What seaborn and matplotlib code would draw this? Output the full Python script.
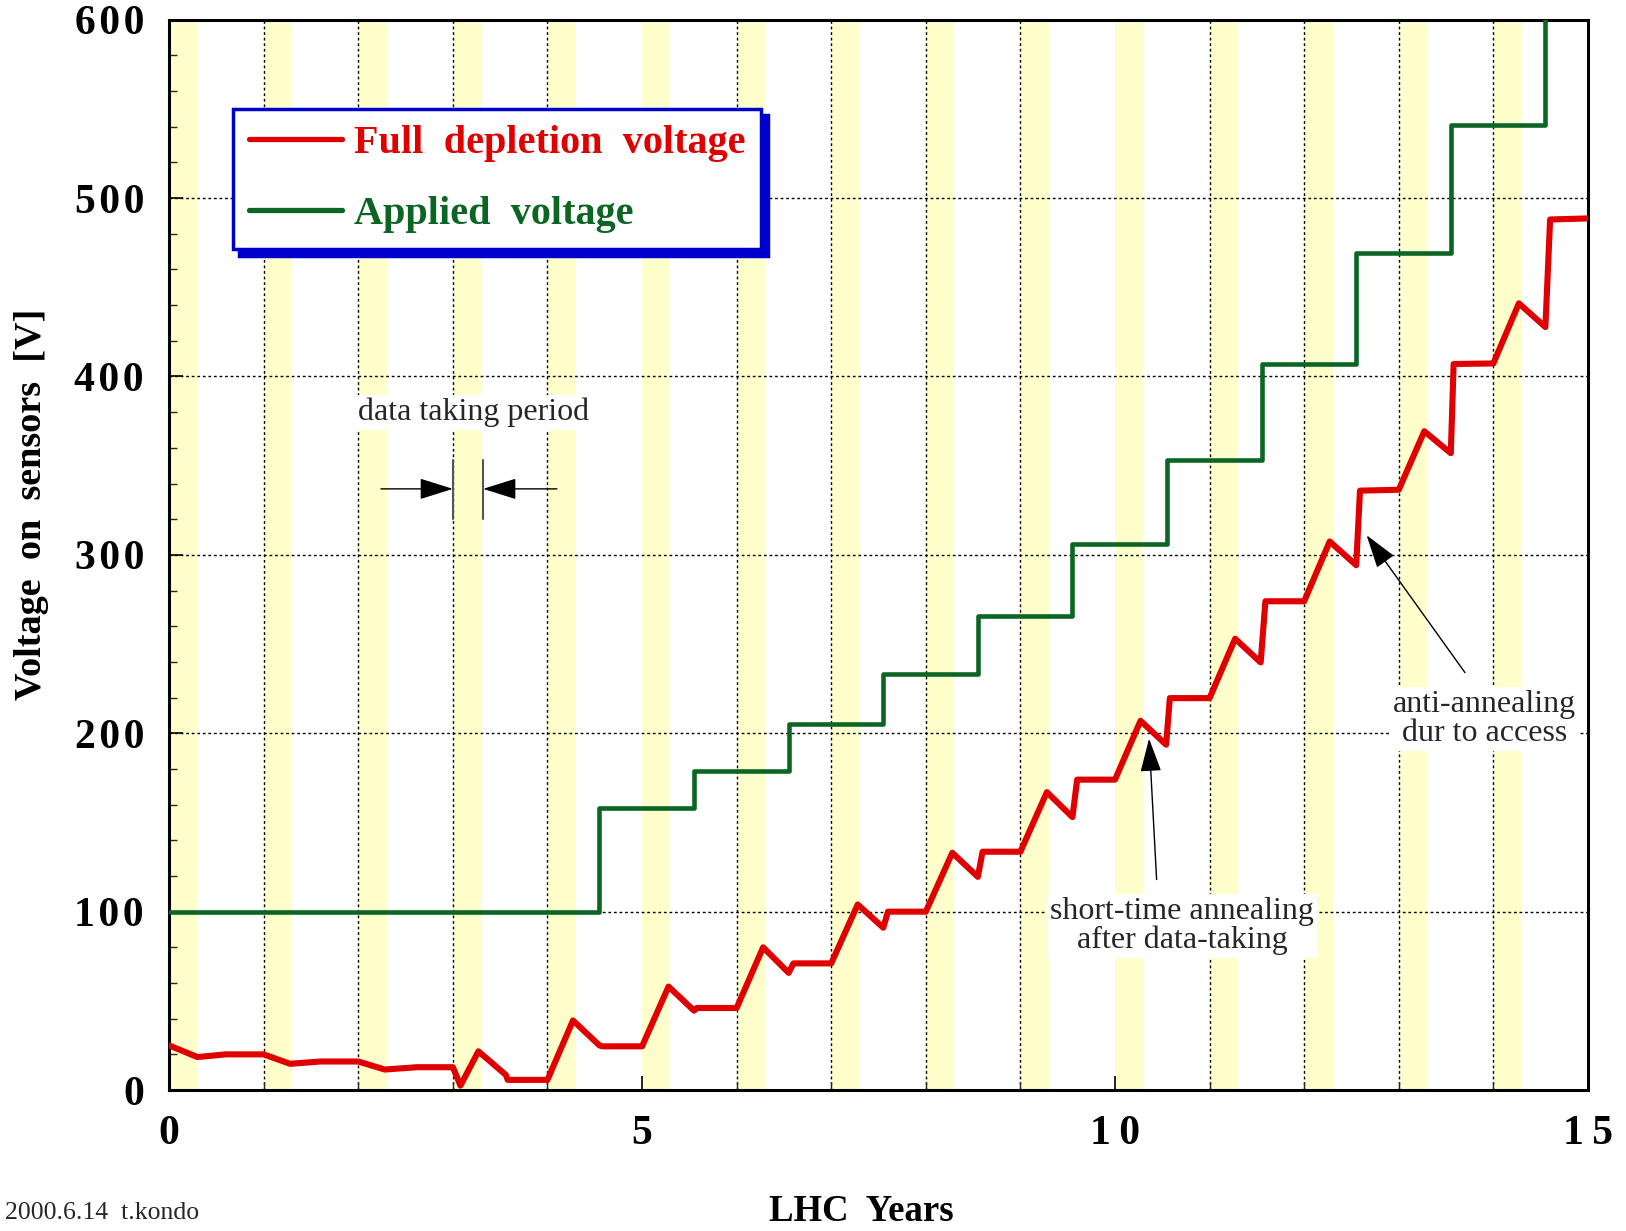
import numpy as np
import pandas as pd
import matplotlib
matplotlib.use("Agg")
import matplotlib.pyplot as plt
import seaborn as sns

# ---------------- data ----------------
band_starts = list(range(0, 15))          # start of each yearly data-taking period
band_width = 0.3                           # length of data-taking period [years]

red_x = [0.0, 0.3, 0.6, 1.0, 1.28, 1.6, 2.0, 2.28, 2.62, 3.0, 3.08, 3.27, 3.56, 3.58, 4.0,
         4.27, 4.55, 4.58, 5.0, 5.28, 5.55, 5.58, 6.0, 6.28, 6.55, 6.6, 7.0,
         7.28, 7.55, 7.6, 8.0, 8.28, 8.55, 8.6, 9.0, 9.28, 9.55, 9.6, 10.0,
         10.27, 10.54, 10.58, 11.0, 11.27, 11.54, 11.59, 12.0, 12.27, 12.55, 12.59, 13.0,
         13.27, 13.55, 13.58, 14.0, 14.27, 14.55, 14.6, 15.0]
red_y = [25, 18.5, 20, 20, 14.7, 16, 16, 11.5, 12.8, 12.8, 2.5, 21.7, 8.5, 5.7, 5.7,
         39, 25, 24.5, 24.5, 58, 44.5, 46, 46, 80, 65.7, 71, 71,
         104, 91, 100, 100, 133, 119.5, 133.6, 133.6, 167, 153, 174, 174,
         207, 193.6, 219.7, 219.7, 253, 239.7, 274, 274, 307.5, 294.2, 336, 336.5,
         369.3, 357, 407, 407.3, 441, 427.7, 488, 488.6]

green_x = [0.0, 4.55, 5.55, 6.55, 7.55, 8.55, 9.55, 10.55, 11.55, 12.55, 13.55, 14.55, 15.0]
green_y = [100, 158, 179, 205, 233, 266, 306, 353, 407, 469, 541, 620, 620]

y_ticks = [0, 100, 200, 300, 400, 500, 600]
y_ticklabels = ["0", "1\u200a0\u200a0", "2\u200a0\u200a0", "3\u200a0\u200a0",
                "4\u200a0\u200a0", "5\u200a0\u200a0", "6\u200a0\u200a0"]
x_ticks = [0, 5, 10, 15]
x_ticklabels = ["0", "5", "1\u20090", "1\u20095"]

red_label = "Full  depletion  voltage"
green_label = "Applied  voltage"

RED = "#E00000"
GREEN = "#0B6623"
BLUE = "#0000CC"

# ---------------- style ----------------
sns.set_theme(style="white")
plt.rcParams["font.family"] = ["Liberation Serif", "DejaVu Serif"]
plt.rcParams["axes.edgecolor"] = "black"

fig = plt.figure(figsize=(16.26, 12.31), dpi=100)
ax = fig.add_axes([0.104, 0.1145, 0.8726, 0.8695])

for s in band_starts:
    ax.axvspan(s, s + band_width, color="#FFFFCC", lw=0, zorder=0)

sns.lineplot(x=red_x, y=red_y, ax=ax, color=RED, lw=4.4, estimator=None, sort=False,
             label=red_label, zorder=3)
sns.lineplot(x=green_x, y=green_y, ax=ax, color=GREEN, lw=3.3, estimator=None, sort=False,
             drawstyle="steps-post", label=green_label, zorder=3)

ax.set_xlim(0, 15)
ax.set_ylim(0, 600)
ax.set_xticks(x_ticks)
ax.set_xticklabels(x_ticklabels)
ax.set_xticks(np.arange(0, 16, 1), minor=True)
ax.set_yticks(y_ticks)
ax.set_yticklabels(y_ticklabels)
ax.set_yticks(np.arange(0, 601, 20), minor=True)

ax.set_axisbelow(True)
ax.grid(True, which="major", axis="y", color="black", lw=1.0, ls=(0, (2, 2)), zorder=1)
ax.grid(True, which="minor", axis="x", color="black", lw=1.0, ls=(0, (2, 2)), zorder=1)
ax.grid(False, which="major", axis="x")

ax.tick_params(axis="both", which="major", direction="in", length=10, width=1.2,
               labelsize=30, pad=18, colors="black")
ax.tick_params(axis="y", which="minor", direction="in", length=6, width=1, left=True)
ax.tick_params(axis="x", which="minor", direction="in", length=6, width=1, bottom=True)
ax.tick_params(left=True, bottom=True, right=False, top=False)
for lab in ax.get_xticklabels() + ax.get_yticklabels():
    lab.set_fontweight("bold")

for sp in ax.spines.values():
    sp.set_visible(True)
    sp.set_color("black")
    sp.set_linewidth(2.2)

ax.set_ylabel("Voltage  on  sensors  [V]", fontsize=27.5, fontweight="bold", color="black",
              va="center")
ax.yaxis.set_label_coords(-0.097, 0.547)
ax.set_xlabel("LHC  Years", fontsize=26.5, fontweight="bold", color="black", va="center")
ax.xaxis.set_label_coords(0.488, -0.113)

# ---------------- annotations ----------------
box = dict(facecolor="white", edgecolor="none", pad=2)
ax.text(2.0, 380, "data taking period", fontsize=23, ha="left", va="center",
        bbox=box, zorder=4)
arrow_kw = dict(arrowstyle="-|>,head_length=1.05,head_width=0.33", mutation_scale=20,
                color="black", lw=1, shrinkA=0, shrinkB=0)
ax.annotate("", xy=(3.0, 337), xytext=(2.24, 337), arrowprops=arrow_kw, zorder=4)
ax.annotate("", xy=(3.32, 337), xytext=(4.1, 337), arrowprops=arrow_kw, zorder=4)
ax.plot([3.0, 3.0], [320, 353], color="#555555", lw=1.5, zorder=4)
ax.plot([3.32, 3.32], [320, 353], color="#555555", lw=1.5, zorder=4)

ax.text(10.71, 92, "short-time annealing\nafter data-taking", fontsize=23, ha="center",
        va="center", linespacing=1.0, bbox=box, zorder=4)
ax.annotate("", xy=(10.36, 197), xytext=(10.44, 118), arrowprops=arrow_kw, zorder=4)

ax.text(13.91, 208, "anti-annealing\ndur to access", fontsize=23, ha="center",
        va="center", linespacing=1.0, bbox=box, zorder=4)
ax.annotate("", xy=(12.66, 311), xytext=(13.7, 234), arrowprops=arrow_kw, zorder=4)

fig.text(0.003, 0.01, "2000.6.14  t.kondo", fontsize=18.5, ha="left", va="baseline")

# ---------------- legend ----------------
leg = ax.legend(loc="upper left", bbox_to_anchor=(0.045, 0.917), borderaxespad=0,
                fancybox=False, frameon=True, edgecolor=BLUE, facecolor="white",
                framealpha=1, handlelength=2.3, handletextpad=0.3, borderpad=0.4,
                labelspacing=0.85, labelcolor="linecolor",
                prop={"size": 29, "weight": "bold"},
                shadow={"facecolor": BLUE, "edgecolor": BLUE, "alpha": 1.0, "ox": 4.5, "oy": -4.5})
leg.get_frame().set_linewidth(2.5)
leg.set_zorder(10)
for h in leg.get_lines():
    h.set_linewidth(3.8)

fig.savefig("out.png", dpi=100)
